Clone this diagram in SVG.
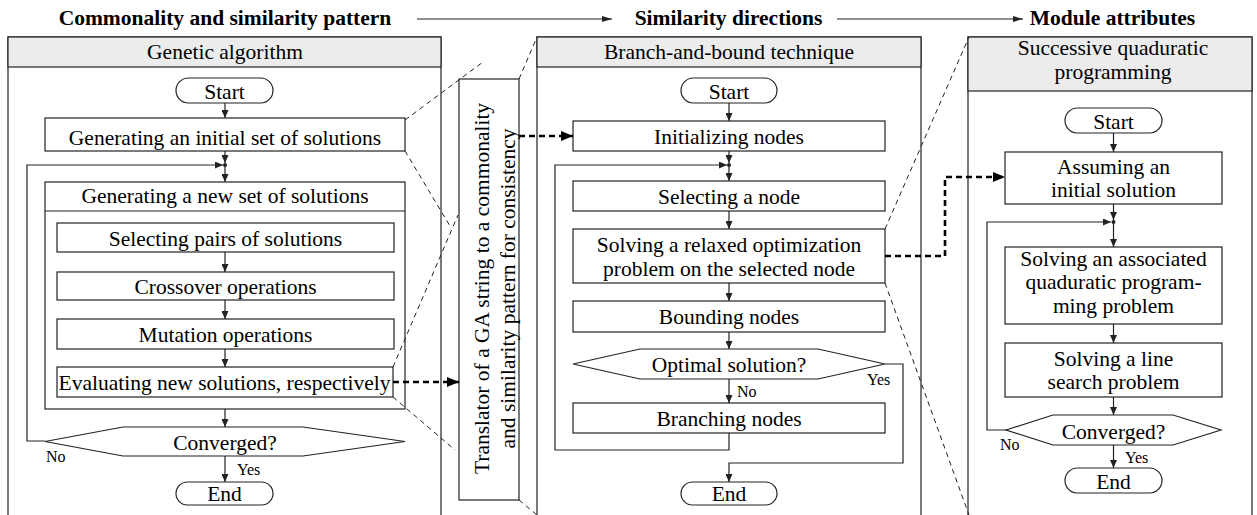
<svg xmlns="http://www.w3.org/2000/svg" width="1257" height="515" viewBox="0 0 1257 515">
<style>
.t{font-family:"Liberation Serif","Times New Roman",serif;font-size:21.5px;text-anchor:middle;fill:#000}
.b{font-weight:bold}
.s{font-size:16px;text-anchor:start}
.box{fill:#fff;stroke:#222;stroke-width:1.2}
.hd{fill:#ececec;stroke:#222;stroke-width:1.2}
.ln{fill:none;stroke:#222;stroke-width:1.2}
.ar{fill:none;stroke:#222;stroke-width:1.2;marker-end:url(#ah)}
.thk{fill:none;stroke:#000;stroke-width:2.6;stroke-dasharray:6 4}
.thka{fill:none;stroke:#000;stroke-width:2.6;stroke-dasharray:6 4;marker-end:url(#ahb)}
.dsh{fill:none;stroke:#222;stroke-width:1;stroke-dasharray:5 4}
.top{fill:none;stroke:#222;stroke-width:1.2;marker-end:url(#ahs)}
</style>
<defs>
<marker id="ah" markerWidth="8" markerHeight="7" refX="8" refY="3.5" orient="auto" markerUnits="userSpaceOnUse"><path d="M0,0 L8,3.5 L0,7 z" fill="#222"/></marker>
<marker id="ahb" markerWidth="12" markerHeight="10" refX="12" refY="5" orient="auto" markerUnits="userSpaceOnUse"><path d="M0,0 L12,5 L0,10 z" fill="#000"/></marker>
<marker id="ahs" markerWidth="10" markerHeight="6" refX="10" refY="3" orient="auto" markerUnits="userSpaceOnUse"><path d="M0,0 L10,3 L0,6 z" fill="#222"/></marker>
</defs>
<rect width="1257" height="515" fill="#fff"/>

<g id="titles">
<text class="t b" x="225" y="25">Commonality and similarity pattern</text>
<text class="t b" x="728.5" y="25">Similarity directions</text>
<text class="t b" x="1112.5" y="25">Module attributes</text>
</g>

<!-- Panel 1 -->
<g id="panel-ga">
<rect class="box" x="8" y="37" width="433" height="500"/>
<rect class="hd" x="8" y="37" width="433" height="30"/>
<text class="t" x="225" y="59">Genetic algorithm</text>
</g>
<g id="ga-start"><rect class="box" x="176" y="78" width="97" height="25" rx="12.5"/><text class="t" x="224.5" y="99">Start</text></g>
<g id="ga-init"><rect class="box" x="45" y="118" width="360" height="33"/><text class="t" x="225" y="145">Generating an initial set of solutions</text></g>
<g id="ga-new">
<rect class="box" x="45" y="182" width="360" height="227"/>
<line class="ln" x1="45" y1="211" x2="405" y2="211"/>
<text class="t" x="225" y="203">Generating a new set of solutions</text>
</g>
<g id="ga-select"><rect class="box" x="57" y="223" width="337" height="29"/><text class="t" x="225.5" y="246">Selecting pairs of solutions</text></g>
<g id="ga-cross"><rect class="box" x="57" y="272" width="337" height="28"/><text class="t" x="225.5" y="294">Crossover operations</text></g>
<g id="ga-mut"><rect class="box" x="57" y="319" width="337" height="30"/><text class="t" x="225.5" y="342">Mutation operations</text></g>
<g id="ga-eval"><rect class="box" x="57" y="367" width="336" height="30"/><text class="t" x="224.5" y="390">Evaluating new solutions, respectively</text></g>
<g id="ga-conv"><polygon class="box" points="45,441.5 123,427 303,427 405,441.5 303,456 123,456"/><text class="t" x="225" y="450">Converged?</text></g>
<g id="ga-end"><rect class="box" x="176" y="482" width="97" height="23" rx="11.5"/><text class="t" x="224.5" y="501">End</text></g>

<!-- Translator -->
<g id="translator">
<rect class="box" x="459" y="79" width="60" height="421"/>
<g transform="translate(489,288.5) rotate(-90)">
<text class="t" x="0" y="0">Translator of a GA string to a commonality</text>
<text class="t" x="0" y="26">and similarity pattern for consistency</text>
</g>
</g>

<!-- Panel 2 -->
<g id="panel-bb">
<rect class="box" x="537" y="37" width="384" height="500"/>
<rect class="hd" x="537" y="37" width="384" height="30"/>
<text class="t" x="729" y="59">Branch-and-bound technique</text>
</g>
<g id="bb-start"><rect class="box" x="681" y="78" width="96" height="25" rx="12.5"/><text class="t" x="729" y="99">Start</text></g>
<g id="bb-init"><rect class="box" x="573" y="121" width="312" height="30"/><text class="t" x="729" y="144">Initializing nodes</text></g>
<g id="bb-select"><rect class="box" x="573" y="181" width="312" height="30"/><text class="t" x="729" y="204">Selecting a node</text></g>
<g id="bb-solve"><rect class="box" x="573" y="229" width="312" height="54"/><text class="t" x="729" y="252">Solving a relaxed optimization</text><text class="t" x="729" y="276">problem on the selected node</text></g>
<g id="bb-bound"><rect class="box" x="573" y="301" width="312" height="31"/><text class="t" x="729" y="324">Bounding nodes</text></g>
<g id="bb-opt"><polygon class="box" points="573,364 640,349 818,349 885,364 818,379 640,379"/><text class="t" x="729" y="372">Optimal solution?</text></g>
<g id="bb-branch"><rect class="box" x="573" y="403" width="312" height="30"/><text class="t" x="729" y="426">Branching nodes</text></g>
<g id="bb-end"><rect class="box" x="681" y="482" width="96" height="23" rx="11.5"/><text class="t" x="729" y="501">End</text></g>

<!-- Panel 3 -->
<g id="panel-sqp">
<rect class="box" x="968" y="37" width="284" height="500"/>
<rect class="hd" x="968" y="37" width="284" height="54"/>
<text class="t" x="1113" y="55">Successive quaduratic</text>
<text class="t" x="1113" y="79">programming</text>
</g>
<g id="sqp-start"><rect class="box" x="1065" y="108" width="97" height="25" rx="12.5"/><text class="t" x="1113.5" y="129">Start</text></g>
<g id="sqp-assume"><rect class="box" x="1005" y="152" width="217" height="52"/><text class="t" x="1113.5" y="174">Assuming an</text><text class="t" x="1113.5" y="197">initial solution</text></g>
<g id="sqp-qp"><rect class="box" x="1005" y="247" width="217" height="77"/><text class="t" x="1113.5" y="266">Solving an associated</text><text class="t" x="1113.5" y="289">quaduratic program-</text><text class="t" x="1113.5" y="313">ming problem</text></g>
<g id="sqp-line"><rect class="box" x="1005" y="343" width="217" height="54"/><text class="t" x="1113.5" y="366">Solving a line</text><text class="t" x="1113.5" y="389">search problem</text></g>
<g id="sqp-conv"><polygon class="box" points="1006,430 1053,415 1173,415 1221,430 1173,445 1053,445"/><text class="t" x="1113.5" y="439">Converged?</text></g>
<g id="sqp-end"><rect class="box" x="1065" y="468" width="97" height="25" rx="12.5"/><text class="t" x="1113.5" y="489">End</text></g>

<g id="connectors">
<!-- top flow -->
<line class="top" x1="417" y1="19" x2="612" y2="19"/>
<line class="top" x1="837" y1="19" x2="1023" y2="19"/>
<!-- panel 1 -->
<line class="ar" x1="225" y1="103" x2="225" y2="118"/>
<line class="ar" x1="225" y1="151" x2="225" y2="163"/>
<circle cx="225" cy="165" r="2" fill="#222"/>
<line class="ar" x1="225" y1="165" x2="225" y2="182"/>
<polyline class="ar" points="45,441 27,441 27,165 223,165"/>
<line class="ar" x1="225" y1="252" x2="225" y2="272"/>
<line class="ar" x1="225" y1="300" x2="225" y2="319"/>
<line class="ar" x1="225" y1="349" x2="225" y2="367"/>
<line class="ar" x1="225" y1="409" x2="225" y2="427"/>
<line class="ar" x1="225" y1="456" x2="225" y2="482"/>
<text class="t s" x="46" y="462">No</text>
<text class="t s" x="237" y="475">Yes</text>
<!-- panel 2 -->
<line class="ar" x1="729" y1="103" x2="729" y2="121"/>
<line class="ar" x1="729" y1="151" x2="729" y2="163"/>
<circle cx="729" cy="165" r="2" fill="#222"/>
<line class="ar" x1="729" y1="165" x2="729" y2="181"/>
<polyline class="ar" points="729,433 729,450 555,450 555,165 727,165"/>
<line class="ar" x1="729" y1="211" x2="729" y2="229"/>
<line class="ar" x1="729" y1="283" x2="729" y2="301"/>
<line class="ar" x1="729" y1="332" x2="729" y2="349"/>
<line class="ar" x1="729" y1="379" x2="729" y2="403"/>
<polyline class="ar" points="885,364 903,364 903,463 729,463 729,482"/>
<text class="t s" x="737" y="397">No</text>
<text class="t s" x="867" y="385">Yes</text>
<!-- panel 3 -->
<line class="ar" x1="1113.5" y1="133" x2="1113.5" y2="152"/>
<line class="ar" x1="1113.5" y1="204" x2="1113.5" y2="220"/>
<circle cx="1113.5" cy="222" r="2" fill="#222"/>
<line class="ar" x1="1113.5" y1="222" x2="1113.5" y2="247"/>
<polyline class="ar" points="1006,430 987,430 987,222 1111,222"/>
<line class="ar" x1="1113.5" y1="324" x2="1113.5" y2="343"/>
<line class="ar" x1="1113.5" y1="397" x2="1113.5" y2="415"/>
<line class="ar" x1="1113.5" y1="445" x2="1113.5" y2="468"/>
<text class="t s" x="1000" y="450">No</text>
<text class="t s" x="1125" y="463">Yes</text>
<!-- thick dashed -->
<line class="thka" x1="393" y1="382" x2="459" y2="382"/>
<line class="thka" x1="519" y1="136" x2="573" y2="136"/>
<polyline class="thka" points="885,256 945,256 945,177 1005,177"/>
<!-- thin dashed projection lines -->
<line class="dsh" x1="405" y1="120" x2="483" y2="62"/>
<line class="dsh" x1="519" y1="79" x2="537" y2="37"/>
<line class="dsh" x1="405" y1="151" x2="450" y2="226"/>
<line class="dsh" x1="393" y1="367" x2="458" y2="215"/>
<line class="dsh" x1="393" y1="397" x2="455" y2="450"/>
<line class="dsh" x1="519" y1="500" x2="537" y2="515"/>
<line class="dsh" x1="885" y1="229" x2="969" y2="37"/>
<line class="dsh" x1="885" y1="283" x2="969" y2="515"/>
</g>
</svg>
